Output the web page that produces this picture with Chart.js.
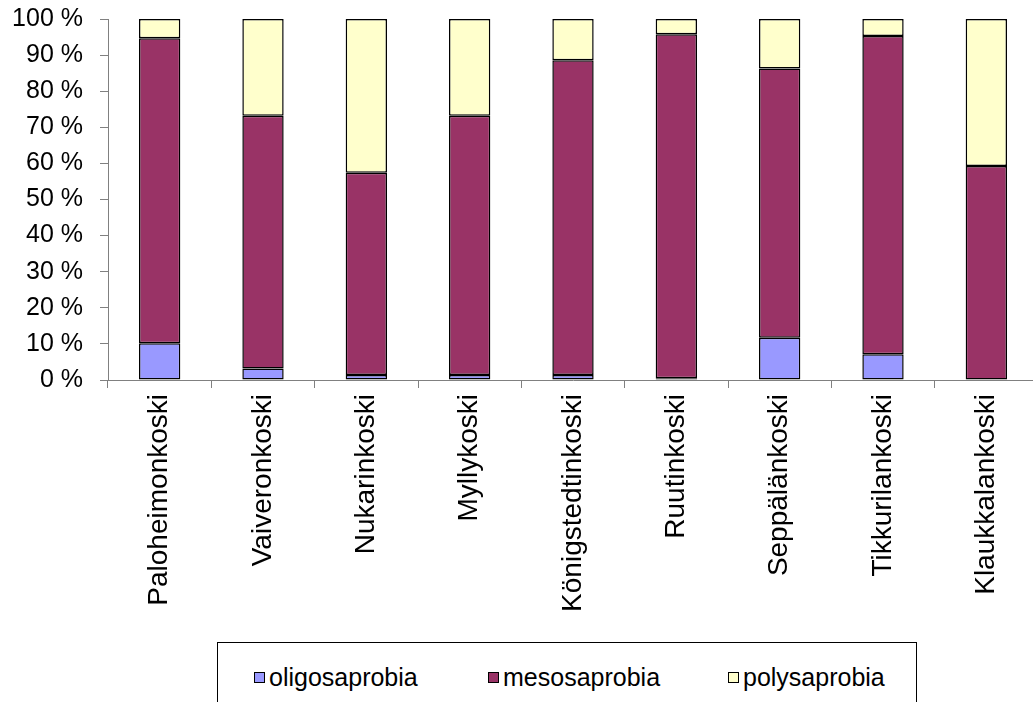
<!DOCTYPE html>
<html>
<head>
<meta charset="utf-8">
<script src="https://cdn.jsdelivr.net/npm/chart.js@4/dist/chart.umd.min.js"></script>
<style>
  html, body { margin: 0; padding: 0; background: #fff; overflow: hidden; }
  #wrap { position: relative; width: 1033px; height: 702px; overflow: hidden; }
  #chart { position: absolute; left: 0; top: 0; }
  #legend {
    position: absolute; left: 217px; top: 642px; width: 700px; height: 80px;
    border: 1px solid #000; box-sizing: border-box; background: #fff;
    font-family: "Liberation Sans", Arial, sans-serif; font-size: 25px; color: #000;
  }
  .item { position: absolute; top: 20px; display: flex; align-items: center; white-space: nowrap; }
  .swatch { width: 11px; height: 11px; border: 1px solid #000; margin-right: 4px; box-sizing: border-box; }
</style>
</head>
<body>
<div id="wrap">
  <canvas id="chart" width="1040" height="702"></canvas>
  <div id="legend"></div>
</div>
<script>
// Rapids along the stream, left to right
const sites = ['Paloheimonkoski', 'Vaiveronkoski', 'Nukarinkoski', 'Myllykoski',
  'Königstedtinkoski', 'Ruutinkoski', 'Seppälänkoski', 'Tikkurilankoski', 'Klaukkalankoski'];

// Share of each saprobity class (%)
const oligosaprobia = [10.2, 3.2, 1.4, 1.4, 1.4, 0.5, 11.7, 7.1, 0];
const mesosaprobia  = [84.5, 70.0, 56.0, 71.8, 87.2, 95.3, 74.6, 88.2, 59.3];
const polysaprobia  = [5.3, 26.8, 42.6, 26.8, 11.4, 4.2, 13.7, 4.7, 40.7];

const seriesNames = ['oligosaprobia', 'mesosaprobia', 'polysaprobia'];
const seriesColors = ['#9999FF', '#993366', '#FFFFCC'];

const FAMILY = '"Liberation Sans", Arial, sans-serif';

const datasets = [oligosaprobia, mesosaprobia, polysaprobia].map((vals, i) => ({
  label: seriesNames[i],
  data: vals,
  backgroundColor: seriesColors[i],
  borderColor: '#000',
  borderWidth: 1.5,
  borderSkipped: false,
  categoryPercentage: 1,
  barPercentage: 0.4
}));

new Chart(document.getElementById('chart'), {
  type: 'bar',
  data: { labels: sites, datasets },
  options: {
    responsive: false,
    animation: false,
    layout: { padding: { top: 19, right: 2, left: 0, bottom: 0 } },
    plugins: { legend: { display: false }, tooltip: { enabled: false } },
    scales: {
      x: {
        stacked: true,
        border: { color: '#808080', width: 1 },
        grid: { drawOnChartArea: false, drawTicks: true, tickLength: 8, color: '#808080', offset: true },
        ticks: { color: '#000', font: { family: FAMILY, size: 28 }, minRotation: 90, maxRotation: 90, padding: 6, autoSkip: false },
        afterFit: s => { s.height = 322; s.paddingLeft = 0; s.paddingRight = 0; }
      },
      y: {
        stacked: true,
        min: 0, max: 100,
        border: { color: '#808080', width: 1 },
        grid: { drawOnChartArea: false, drawTicks: true, tickLength: 8, color: '#808080' },
        ticks: { stepSize: 10, color: '#000', font: { family: FAMILY, size: 25 }, padding: 17, callback: v => v + ' %' },
        afterFit: s => { s.width = 108; s.paddingTop = 0; s.paddingBottom = 0; }
      }
    }
  }
});

// Legend box under the chart
const legend = document.getElementById('legend');
const offsets = [36, 270, 510];
seriesNames.forEach((name, i) => {
  const item = document.createElement('div');
  item.className = 'item';
  item.style.left = offsets[i] + 'px';
  const sw = document.createElement('span');
  sw.className = 'swatch';
  sw.style.background = seriesColors[i];
  const tx = document.createElement('span');
  tx.textContent = name;
  item.appendChild(sw);
  item.appendChild(tx);
  legend.appendChild(item);
});
</script>
</body>
</html>
